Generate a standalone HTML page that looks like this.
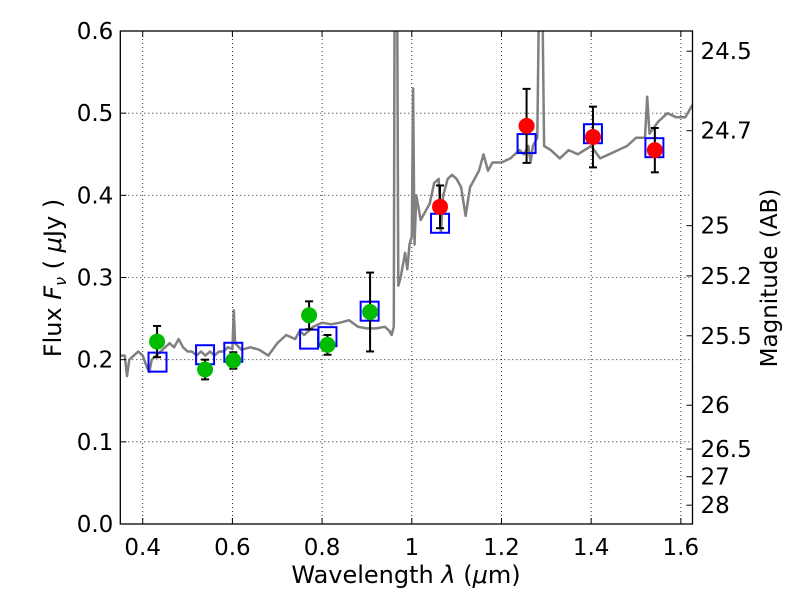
<!DOCTYPE html>
<html><head><meta charset="utf-8"><style>
html,body{margin:0;padding:0;background:#fff;}
svg text{font-family:"DejaVu Sans","Liberation Sans",sans-serif;fill:#000;}
</style></head><body>
<svg id="chart" width="800" height="600" xmlns="http://www.w3.org/2000/svg">
<defs><clipPath id="clip"><rect x="120.3" y="31" width="572.2" height="493"/></clipPath></defs>
<rect width="800" height="600" fill="#fff"/>
<g id="grid"></g>
<g id="spec" clip-path="url(#clip)"></g>
<g id="marks" clip-path="url(#clip)"></g>
<rect x="120.3" y="31" width="572.2" height="493" fill="none" stroke="#000" stroke-width="1.3"/>
<g id="axes"></g>
<text x="406" y="583" font-size="24" text-anchor="middle">Wavelength  <tspan font-style="italic">λ</tspan> (<tspan font-style="italic">μ</tspan>m)</text>
<text transform="translate(61,278) rotate(-90)" font-size="24" text-anchor="middle">Flux  <tspan font-style="italic">F</tspan><tspan font-style="italic" font-size="16" dy="5">ν</tspan><tspan dy="-5">  ( </tspan><tspan font-style="italic">μ</tspan>Jy )</text>
<text transform="translate(777,278) rotate(-90)" font-size="23" text-anchor="middle">Magnitude (AB)</text>
</svg>
<script>
const xTicks=[0.4,0.6,0.8,1.0,1.2,1.4,1.6];
const xTickLabels=["0.4","0.6","0.8","1","1.2","1.4","1.6"];
const yTicks=[0,0.1,0.2,0.3,0.4,0.5,0.6];
const yTickLabels=["0.0","0.1","0.2","0.3","0.4","0.5","0.6"];
const magTicks=[24.5,24.7,25,25.2,25.5,26,26.5,27,28];
const magTickLabels=["24.5","24.7","25","25.2","25.5","26","26.5","27","28"];
const specLam=[0.35,0.36,0.365,0.37,0.38,0.39,0.40,0.41,0.415,0.42,0.43,0.44,0.45,0.46,0.47,0.48,0.49,0.50,0.51,0.52,0.53,0.54,0.55,0.56,0.57,0.58,0.59,0.60,0.603,0.606,0.62,0.64,0.66,0.68,0.70,0.72,0.74,0.75,0.76,0.78,0.80,0.82,0.84,0.86,0.88,0.90,0.92,0.94,0.95,0.955,0.96,0.962,0.967,0.97,0.975,0.985,0.99,0.995,1.0,1.003,1.006,1.01,1.02,1.03,1.04,1.05,1.06,1.065,1.07,1.08,1.09,1.10,1.11,1.12,1.13,1.14,1.15,1.16,1.17,1.18,1.20,1.22,1.24,1.25,1.26,1.265,1.27,1.28,1.285,1.29,1.295,1.31,1.33,1.35,1.37,1.40,1.42,1.44,1.46,1.48,1.50,1.52,1.525,1.53,1.55,1.57,1.59,1.61,1.626];
const specFlux=[0.205,0.205,0.18,0.2,0.205,0.21,0.205,0.19,0.185,0.2,0.205,0.21,0.215,0.22,0.215,0.225,0.215,0.21,0.21,0.205,0.21,0.205,0.21,0.205,0.21,0.21,0.215,0.213,0.26,0.22,0.212,0.215,0.212,0.205,0.22,0.23,0.225,0.235,0.23,0.24,0.245,0.243,0.245,0.248,0.24,0.238,0.238,0.24,0.235,0.23,0.24,0.7,0.7,0.29,0.3,0.33,0.31,0.34,0.35,0.53,0.34,0.4,0.37,0.38,0.39,0.415,0.42,0.355,0.4,0.42,0.425,0.42,0.41,0.375,0.41,0.42,0.43,0.45,0.43,0.44,0.44,0.445,0.455,0.45,0.46,0.44,0.46,0.47,0.7,0.7,0.46,0.455,0.445,0.455,0.45,0.46,0.445,0.45,0.455,0.46,0.47,0.47,0.52,0.475,0.49,0.5,0.495,0.495,0.51];
const greenLam=[0.432,0.539,0.602,0.771,0.812,0.907];
const greenFlux=[0.222,0.188,0.199,0.254,0.218,0.258];
const greenErr=[0.019,0.012,0.01,0.017,0.012,0.048];
const redLam=[1.063,1.256,1.404,1.542];
const redFlux=[0.386,0.4845,0.471,0.455];
const redErr=[0.026,0.045,0.037,0.027];
const modelLam=[0.433,0.539,0.602,0.771,0.812,0.906,1.063,1.256,1.404,1.541];
const modelFlux=[0.197,0.206,0.209,0.225,0.228,0.259,0.366,0.463,0.475,0.458];

const X0=120.3,X1=692.5,Y0=524,Y1=31,LMIN=0.35,LMAX=1.626,FMAX=0.6;
const sx=l=>X0+(l-LMIN)/(LMAX-LMIN)*(X1-X0);
const sy=f=>Y0-f/FMAX*(Y0-Y1);
const NS="http://www.w3.org/2000/svg";
function mk(tag,attrs,parent){const e=document.createElementNS(NS,tag);for(const k in attrs)e.setAttribute(k,attrs[k]);parent.appendChild(e);return e;}
const grid=document.getElementById('grid'),axes=document.getElementById('axes'),spec=document.getElementById('spec'),marks=document.getElementById('marks');
xTicks.forEach((t,i)=>{const x=sx(t);
 let g=mk('line',{x1:x,x2:x,y1:Y1,y2:Y0,stroke:'#000','stroke-width':0.8,'stroke-dasharray':'1,3'},grid);
 
 mk('line',{x1:x,x2:x,y1:Y0,y2:Y0-6,stroke:'#000'},axes);mk('line',{x1:x,x2:x,y1:Y1,y2:Y1+6,stroke:'#000'},axes);
 let tx=mk('text',{x:x,y:Y0+31,'font-size':23,'text-anchor':'middle'},axes);tx.textContent=xTickLabels[i];
 });
yTicks.forEach((t,i)=>{const y=sy(t);
 if(t>0&&t<0.6){let g=mk('line',{x1:X0,x2:X1,y1:y,y2:y,stroke:'#000','stroke-width':0.8,'stroke-dasharray':'1,3'},grid);
 }
 mk('line',{x1:X0,x2:X0+6,y1:y,y2:y,stroke:'#000'},axes);
 let tx=mk('text',{x:X0-7,y:y+8,'font-size':23,'text-anchor':'end'},axes);tx.textContent=yTickLabels[i];
 });
magTicks.forEach((m,i)=>{const y=sy(Math.pow(10,-(m-23.9)/2.5));
 mk('line',{x1:X1,x2:X1-6,y1:y,y2:y,stroke:'#000'},axes);
 let tx=mk('text',{x:X1+8,y:y+8,'font-size':23},axes);tx.textContent=magTickLabels[i];
 });
const d=specLam.map((l,i)=>(i?'L':'M')+sx(l).toFixed(1)+','+sy(specFlux[i]).toFixed(1)).join('');
const sp=mk('path',{d:d,fill:'none',stroke:'#808080','stroke-width':2.5,'stroke-linejoin':'round'},spec);

function errbar(l,f,e){const x=sx(l),ya=sy(f+e),yb=sy(f-e);
 mk('line',{x1:x,x2:x,y1:ya,y2:yb,stroke:'#000','stroke-width':2},marks);
 mk('line',{x1:x-4,x2:x+4,y1:ya,y2:ya,stroke:'#000','stroke-width':2},marks);
 mk('line',{x1:x-4,x2:x+4,y1:yb,y2:yb,stroke:'#000','stroke-width':2},marks);}
modelLam.forEach((l,i)=>{const r=mk('rect',{x:sx(l)-9,y:sy(modelFlux[i])-9.5,width:18,height:19,fill:'none',stroke:'#0000ff','stroke-width':2},marks);
 });
greenLam.forEach((l,i)=>{errbar(l,greenFlux[i],greenErr[i]);
 const c=mk('circle',{cx:sx(l),cy:sy(greenFlux[i]),r:8,fill:'#00bb00'},marks);
 });
redLam.forEach((l,i)=>{errbar(l,redFlux[i],redErr[i]);
 const c=mk('circle',{cx:sx(l),cy:sy(redFlux[i]),r:8,fill:'#ff0000'},marks);
 });
</script>
</body></html>
